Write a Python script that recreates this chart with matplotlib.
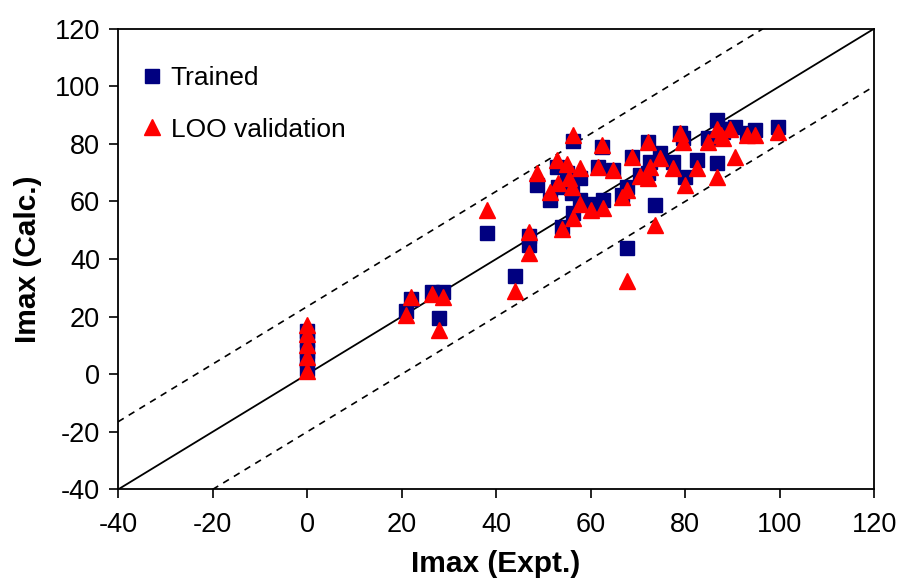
import matplotlib
matplotlib.use("Agg")
import matplotlib.pyplot as plt
import numpy as np

plt.rcParams['font.family'] = ['Liberation Sans', 'DejaVu Sans']
plt.rcParams['axes.unicode_minus'] = False

# deneysel Imax degerleri ve hesaplanan degerler (egitim / LOO)
expt = [0, 0, 0, 0, 0,
        21, 22, 26.5, 28.8, 28,
        38, 44, 47, 47, 48.7, 51.4, 53, 53.1, 54, 55, 55.5, 56, 56.3,
        57.8, 56.3, 57.8, 60, 61.6, 62.5, 62.6, 64.8, 66.7, 67.7, 67.7,
        68.8, 70.5, 72.2, 72.6, 72.2, 73.6, 74.7, 77.5, 79, 79.5, 80,
        82.5, 84.9, 86.8, 86.8, 87.5, 88, 89.5, 90.6, 93, 94.8, 99.7]
trained = [15, 12, 8, 5, 2,
           22, 26, 28.5, 28.5, 19.5,
           49, 34, 48, 45, 65.7, 60.5, 72, 65, 51, 70, 66, 63, 81,
           68, 56, 60.5, 59, 72, 79, 60.5, 71, 62.2, 65, 43.8,
           75.4, 69.2, 80.6, 73.7, 70, 58.7, 76.8, 73.7, 83.7, 82, 68.5,
           74.4, 82, 73.3, 88.3, 85, 84, 85, 86, 83.7, 84.8, 86]
loo = [17, 14, 10, 6, 1,
       20.5, 27, 28, 27, 15.5,
       57, 29, 49.5, 42, 70, 63.3, 74.4, 66.4, 50.3, 73, 68, 65, 83,
       71.6, 54.3, 59, 57, 72, 79.5, 57.7, 71, 61.4, 64, 32.5,
       75.4, 69, 80.6, 72, 68, 51.8, 75, 71.5, 83.7, 80.6, 65.7,
       71.6, 80.6, 68.5, 85, 83, 82, 85, 75.4, 83, 83, 84]

# ideal dogru ve hata bantlari
line_x = [-40, 120]
upper_x = [-40, 96.5]
upper_off = 23.5
lower_x = [-20, 120]
lower_off = -20

fig = plt.figure(figsize=(9.03, 5.81), dpi=100)
ax = fig.add_axes([0.1307, 0.1575, 0.8373, 0.7931])

ax.plot(line_x, line_x, color="black", lw=1.3, zorder=1)
ax.plot(upper_x, np.array(upper_x) + upper_off, color="black", lw=1.2,
        dashes=(4, 3.5), zorder=1)
ax.plot(lower_x, np.array(lower_x) + lower_off, color="black", lw=1.2,
        dashes=(4, 3.5), zorder=1)

ax.plot(expt, trained, ls="none", marker="s", ms=9.5, color="#000080",
        label="Trained", zorder=2)
ax.plot(expt, loo, ls="none", marker="^", ms=11, color="#ff0000",
        label="LOO validation", zorder=3)

ax.set_xlim(-40, 120)
ax.set_ylim(-40, 120)
ax.set_xticks(np.arange(-40, 121, 20))
ax.set_yticks(np.arange(-40, 121, 20))
ax.tick_params(direction="out", length=6.5, width=1.2, labelsize=19.5,
               top=False, right=False)
ax.tick_params(axis="x", pad=10)
ax.tick_params(axis="y", pad=6.5)
for s in ax.spines.values():
    s.set_linewidth(1.3)

ax.set_xlabel("Imax (Expt.)", fontsize=21.5, fontweight="bold", labelpad=8)
ax.set_ylabel("Imax (Calc.)", fontsize=21.5, fontweight="bold", labelpad=9)

ax.legend(loc="upper left", frameon=False, fontsize=19, labelspacing=1.05,
          handletextpad=0.2, handlelength=1.0, borderaxespad=0, borderpad=0,
          bbox_to_anchor=(0.028, 0.919), markerscale=1.0)

fig.savefig("out.png", dpi=100)
